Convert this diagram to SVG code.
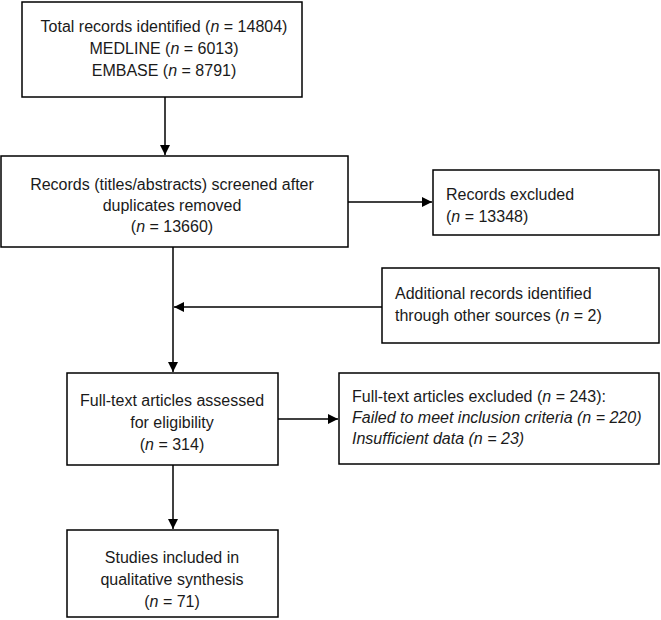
<svg xmlns="http://www.w3.org/2000/svg" width="661" height="620" viewBox="0 0 661 620">
<style>
.box{fill:#fff;stroke:#000;stroke-width:1.5}
text{font-family:"Liberation Sans",Arial,sans-serif;font-size:16px;fill:#1a1a1a}
.c{text-anchor:middle}
.ln{stroke:#000;stroke-width:1.5;fill:none}
</style>
<defs>
<marker id="ah" viewBox="0 0 10 10" refX="10" refY="5" markerWidth="10" markerHeight="10" markerUnits="userSpaceOnUse" orient="auto">
<path d="M0,0 L10,5 L0,10 z" fill="#000"/>
</marker>
</defs>
<rect width="661" height="620" fill="#fff"/>
<g id="connectors">
<line class="ln" x1="165" y1="97" x2="165" y2="155" marker-end="url(#ah)"/>
<line class="ln" x1="348" y1="202" x2="432" y2="202" marker-end="url(#ah)"/>
<line class="ln" x1="173" y1="247" x2="173" y2="372" marker-end="url(#ah)"/>
<line class="ln" x1="382" y1="307" x2="174" y2="307" marker-end="url(#ah)"/>
<line class="ln" x1="278" y1="419" x2="338" y2="419" marker-end="url(#ah)"/>
<line class="ln" x1="173" y1="465" x2="173" y2="529" marker-end="url(#ah)"/>
</g>
<g id="n1">
<rect class="box" x="22" y="2" width="280" height="95"/>
<text class="c" x="164" y="32">Total records identified (<tspan font-style="italic">n</tspan> = 14804)</text>
<text class="c" x="164" y="54">MEDLINE (<tspan font-style="italic">n</tspan> = 6013)</text>
<text class="c" x="164" y="76">EMBASE (<tspan font-style="italic">n</tspan> = 8791)</text>
</g>
<g id="n2">
<rect class="box" x="1" y="156" width="347" height="91"/>
<text class="c" x="172" y="190">Records (titles/abstracts) screened after</text>
<text class="c" x="172" y="211">duplicates removed</text>
<text class="c" x="172" y="232">(<tspan font-style="italic">n</tspan> = 13660)</text>
</g>
<g id="n3">
<rect class="box" x="433" y="170" width="226" height="65"/>
<text x="446" y="200">Records excluded</text>
<text x="446" y="222">(<tspan font-style="italic">n</tspan> = 13348)</text>
</g>
<g id="n4">
<rect class="box" x="382" y="268" width="277" height="75"/>
<text x="395" y="299">Additional records identified</text>
<text x="395" y="321">through other sources (<tspan font-style="italic">n</tspan> = 2)</text>
</g>
<g id="n5">
<rect class="box" x="67" y="373" width="211" height="92"/>
<text class="c" x="172" y="406">Full-text articles assessed</text>
<text class="c" x="172" y="428">for eligibility</text>
<text class="c" x="172" y="450">(<tspan font-style="italic">n</tspan> = 314)</text>
</g>
<g id="n6">
<rect class="box" x="339" y="373" width="320" height="91"/>
<text x="352" y="402">Full-text articles excluded (<tspan font-style="italic">n</tspan> = 243):</text>
<text x="352" y="423" font-style="italic">Failed to meet inclusion criteria (n = 220)</text>
<text x="352" y="444" font-style="italic">Insufficient data (n = 23)</text>
</g>
<g id="n7">
<rect class="box" x="67" y="530" width="211" height="87"/>
<text class="c" x="172" y="563">Studies included in</text>
<text class="c" x="172" y="585">qualitative synthesis</text>
<text class="c" x="172" y="607">(<tspan font-style="italic">n</tspan> = 71)</text>
</g>
</svg>
